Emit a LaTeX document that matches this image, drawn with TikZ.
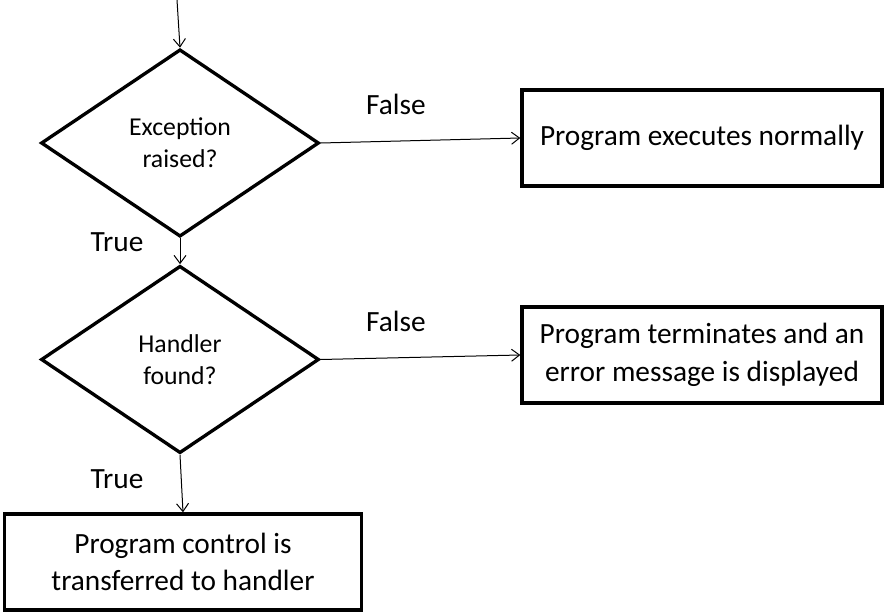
\documentclass[tikz,border=0pt]{standalone}
\usepackage{fontspec}
\setmainfont{Carlito}
\usetikzlibrary{shapes.geometric,arrows.meta}

\tikzset{
  decision/.style={draw,line width=2.5pt,diamond,inner sep=0pt,minimum width=208.5pt,minimum height=140.5pt,align=center,font=\fontsize{19.3}{24}\selectfont},
  outcome/.style={draw,line width=2.5pt,rectangle,inner sep=0pt,minimum width=270pt,minimum height=72pt,align=center,font=\fontsize{22}{28}\selectfont},
  branch/.style={inner sep=0.75pt,font=\fontsize{22}{26}\selectfont},
  flow/.style={line width=0.75pt,-{Straight Barb[length=6pt,width=9pt]}}
}

\begin{document}
\begin{tikzpicture}[x=0.75pt,y=0.75pt,yscale=-1,xscale=1]
        \useasboundingbox (0,0) rectangle (889,613);

        % Decisions
        \node [decision] (exc) at (180,143) {Exception\\raised?};
        \node [decision] (hnd) at (180,359.5) {Handler\\found?};
        % Outcomes
        \node [outcome] (normal) at (702,138) {Program executes normally};
        \node [outcome] (term) at (702,355) {Program terminates and an\\error message is displayed};
        \node [outcome,minimum width=268pt] (handler) at (183,562) {Program control is\\transferred to handler};
        % Incoming line
        \coordinate (entry) at (177,0);

        % Connectors
        \draw [flow] (entry) -- (exc.north);
        \draw [flow] (exc.east) -- (normal.west);
        \draw [flow] (exc.south) -- (hnd.north);
        \draw [flow] (hnd.east) -- (term.west);
        \draw [flow] (hnd.south) -- (handler.north);

        % Text Node
        \node [branch] (excfalse) at (396,104) {False};
        % Text Node
        \node [branch] (exctrue) at (117,242) {True};
        % Text Node
        \node [branch] (hndfalse) at (396,321) {False};
        % Text Node
        \node [branch] (hndtrue) at (117,479) {True};

\end{tikzpicture}
\end{document}
